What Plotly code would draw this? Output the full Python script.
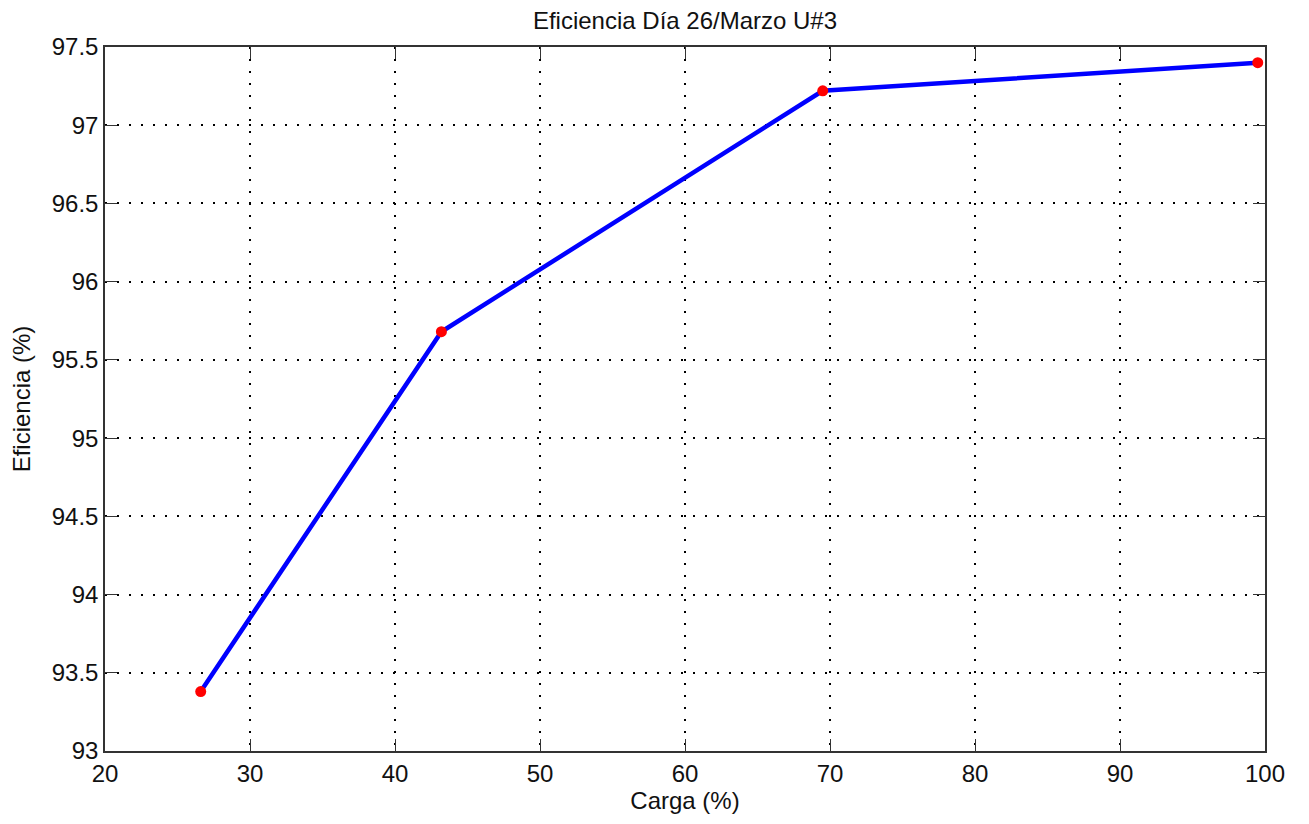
import plotly.graph_objects as go

carga = [26.6, 43.2, 69.5, 99.5]
eficiencia = [93.38, 95.68, 97.22, 97.40]
x_ticks = [20, 30, 40, 50, 60, 70, 80, 90, 100]
y_ticks = [93, 93.5, 94, 94.5, 95, 95.5, 96, 96.5, 97, 97.5]
y_tick_text = ["93", "93.5", "94", "94.5", "95", "95.5", "96", "96.5", "97", "97.5"]

fig = go.Figure()
fig.add_trace(go.Scatter(
    x=carga, y=eficiencia, mode="lines+markers",
    line=dict(color="#0000ff", width=4.5),
    marker=dict(color="#ff0000", size=11, line=dict(width=0)),
    showlegend=False,
))

font = "Liberation Sans, Arial, sans-serif"
fig.update_layout(
    width=1309, height=824,
    margin=dict(l=105, r=44, t=47, b=73),
    paper_bgcolor="white", plot_bgcolor="white",
    title=dict(text="Eficiencia Día 26/Marzo U#3", x=0.5 * (105 + 1265) / 1309, xanchor="center",
               y=1 - 21 / 824, yanchor="middle", font=dict(family=font, size=24, color="#111")),
    font=dict(family=font, color="#111"),
)
axis_common = dict(
    showgrid=True, gridcolor="black", griddash="2px,10px", gridwidth=1.5,
    showline=True, linecolor="#333", linewidth=1.5, mirror="ticks",
    ticks="inside", ticklen=12, tickcolor="#333", tickwidth=1.2,
    zeroline=False, tickfont=dict(family=font, size=24, color="#111"),
)
fig.update_xaxes(range=[20, 100], tickvals=x_ticks,
                 title=dict(text="Carga (%)", font=dict(family=font, size=24), standoff=4),
                 **axis_common)
fig.update_yaxes(range=[93, 97.5], tickvals=y_ticks, ticktext=y_tick_text,
                 title=dict(text="Eficiencia (%)", font=dict(family=font, size=24), standoff=14),
                 **axis_common)

fig.write_html("out.html")
